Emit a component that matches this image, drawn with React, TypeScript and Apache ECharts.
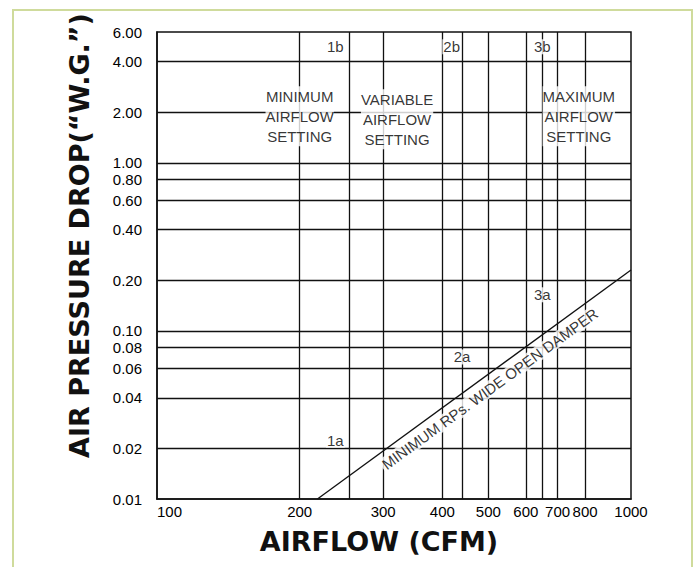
import React, { useEffect, useRef } from "react";
import * as echarts from "echarts";

// Vertical grid lines (CFM) and horizontal grid lines (in. W.G.)
const xGridValues = [200, 255, 300, 400, 440, 500, 600, 650, 700, 800];
const yGridValues = [0.02, 0.04, 0.06, 0.08, 0.1, 0.2, 0.4, 0.6, 0.8, 1, 2, 4];
// Tick labels
const xTickLabels = [100, 200, 300, 400, 500, 600, 700, 800, 1000];
const yTickLabels = [0.01, 0.02, 0.04, 0.06, 0.08, 0.1, 0.2, 0.4, 0.6, 0.8, 1, 2, 4, 6];
// Minimum RPs, wide open damper curve: [CFM, pressure drop]
const damperCurve = [
  [218, 0.01],
  [1000, 0.23],
];
// Point annotations anchored to data (CFM, pressure)
const pointNames = ["1b", "2b", "3b", "1a", "2a", "3a"];
const pointCfm = [255, 440, 650, 255, 440, 650];
const pointDrop = [4.9, 4.9, 4.9, 0.0224, 0.07, 0.164];
const pointSide = ["left", "left", "inside", "left", "inside", "inside"];
// Region labels
const regionTexts = [
  "MINIMUM\nAIRFLOW\nSETTING",
  "VARIABLE\nAIRFLOW\nSETTING",
  "MAXIMUM\nAIRFLOW\nSETTING",
];
const regionCfm = [200, 321, 776];
const regionDrop = [2, 2, 2];
const curveLabel = "MINIMUM RPs. WIDE OPEN DAMPER";
const curveLabelAnchor = [469, 0.0484];

const FONT = "'Liberation Sans', Arial, sans-serif";
const BOLD = "'DejaVu Sans', Verdana, sans-serif";

export default function App() {
  const ref = useRef<HTMLDivElement>(null);
  useEffect(() => {
    if (!ref.current) return;
    const chart = echarts.init(ref.current, undefined, { renderer: "svg" });
    const labelBase = {
      show: true,
      fontFamily: FONT,
      fontSize: 15,
      color: "#000",
      backgroundColor: "#fff",
      padding: [0, 1],
    };
    const annotations: any[] = [];
    pointNames.forEach((n, i) => {
      annotations.push({
        value: [pointCfm[i], pointDrop[i]],
        label: {
          ...labelBase,
          formatter: n,
          position: pointSide[i],
          distance: pointSide[i] === "left" ? (i === 1 ? 1 : 5) : 0,
        },
      });
    });
    regionTexts.forEach((t, i) => {
      annotations.push({
        value: [regionCfm[i], regionDrop[i]],
        label: {
          ...labelBase,
          formatter: t,
          position: "inside",
          lineHeight: 20,
          padding: [0, 0],
          offset: [0, i === 1 ? 7 : 4],
        },
      });
    });
    annotations.push({
      value: curveLabelAnchor,
      label: {
        ...labelBase,
        formatter: curveLabel,
        position: "inside",
        rotate: 36,
        padding: [0, 2],
        offset: [9, 12.6],
      },
    });

    chart.setOption({
      animation: false,
      backgroundColor: "#fff",
      grid: {
        left: 157,
        right: 66,
        top: 32,
        bottom: 68,
        show: true,
        borderColor: "#111",
        borderWidth: 1.5,
        backgroundColor: "transparent",
        containLabel: false,
        outerBoundsMode: "none",
      },
      graphic: [
        {
          type: "rect",
          shape: { x: 13, y: 10, width: 679, height: 600 },
          style: { fill: "none", stroke: "#cfdb9c", lineWidth: 2 },
          silent: true,
          z: -1,
        },
      ],
      xAxis: {
        type: "log",
        logBase: 10,
        min: 100,
        max: 1000,
        name: "AIRFLOW (CFM)",
        nameLocation: "middle",
        nameGap: 29,
        nameMoveOverlap: false,
        nameTextStyle: {
          fontFamily: BOLD,
          fontWeight: "bold",
          fontSize: 27,
          color: "#111",
          padding: [0, 30, 0, 0],
        },
        axisLine: { show: true, lineStyle: { color: "#111", width: 1.5 } },
        axisTick: { show: false },
        splitLine: { show: false },
        minorSplitLine: { show: false },
        axisLabel: {
          customValues: xTickLabels,
          formatter: (v: number) => String(Math.round(v)),
          fontFamily: FONT,
          fontSize: 15,
          color: "#000",
          margin: 5,
          alignMinLabel: "left",
          showMinLabel: true,
          showMaxLabel: true,
        },
      },
      yAxis: {
        type: "log",
        logBase: 10,
        min: 0.01,
        max: 6,
        name: "AIR PRESSURE DROP(\u201CW.G.\u201D)",
        nameLocation: "middle",
        nameGap: 64,
        nameMoveOverlap: false,
        nameTextStyle: {
          fontFamily: BOLD,
          fontWeight: "bold",
          fontSize: 27,
          color: "#111",
          padding: [0, 0, 0, 60],
        },
        axisLine: { show: true, lineStyle: { color: "#111", width: 1.5 } },
        axisTick: { show: false },
        splitLine: { show: false },
        minorSplitLine: { show: false },
        axisLabel: {
          customValues: yTickLabels,
          formatter: (v: number) => v.toFixed(2),
          fontFamily: FONT,
          fontSize: 15,
          color: "#000",
          margin: 15,
          showMinLabel: true,
          showMaxLabel: true,
        },
      },
      series: [
        {
          type: "line",
          data: damperCurve,
          showSymbol: false,
          symbol: "none",
          silent: true,
          z: 2,
          lineStyle: { color: "#111", width: 1.3 },
          markLine: {
            silent: true,
            symbol: ["none", "none"],
            label: { show: false },
            emphasis: { disabled: true },
            lineStyle: { color: "#111", width: 1.3, type: "solid" },
            data: [
              ...xGridValues.map((v) => ({ xAxis: v })),
              ...yGridValues.map((v) => ({ yAxis: v })),
            ],
          },
        },
        {
          type: "scatter",
          data: annotations,
          symbolSize: 0,
          silent: true,
          z: 5,
        },
      ],
    });
    return () => chart.dispose();
  }, []);
  return (
    <div
      ref={ref}
      style={{ position: "fixed", left: 0, top: 0, width: 697, height: 567 }}
    />
  );
}
